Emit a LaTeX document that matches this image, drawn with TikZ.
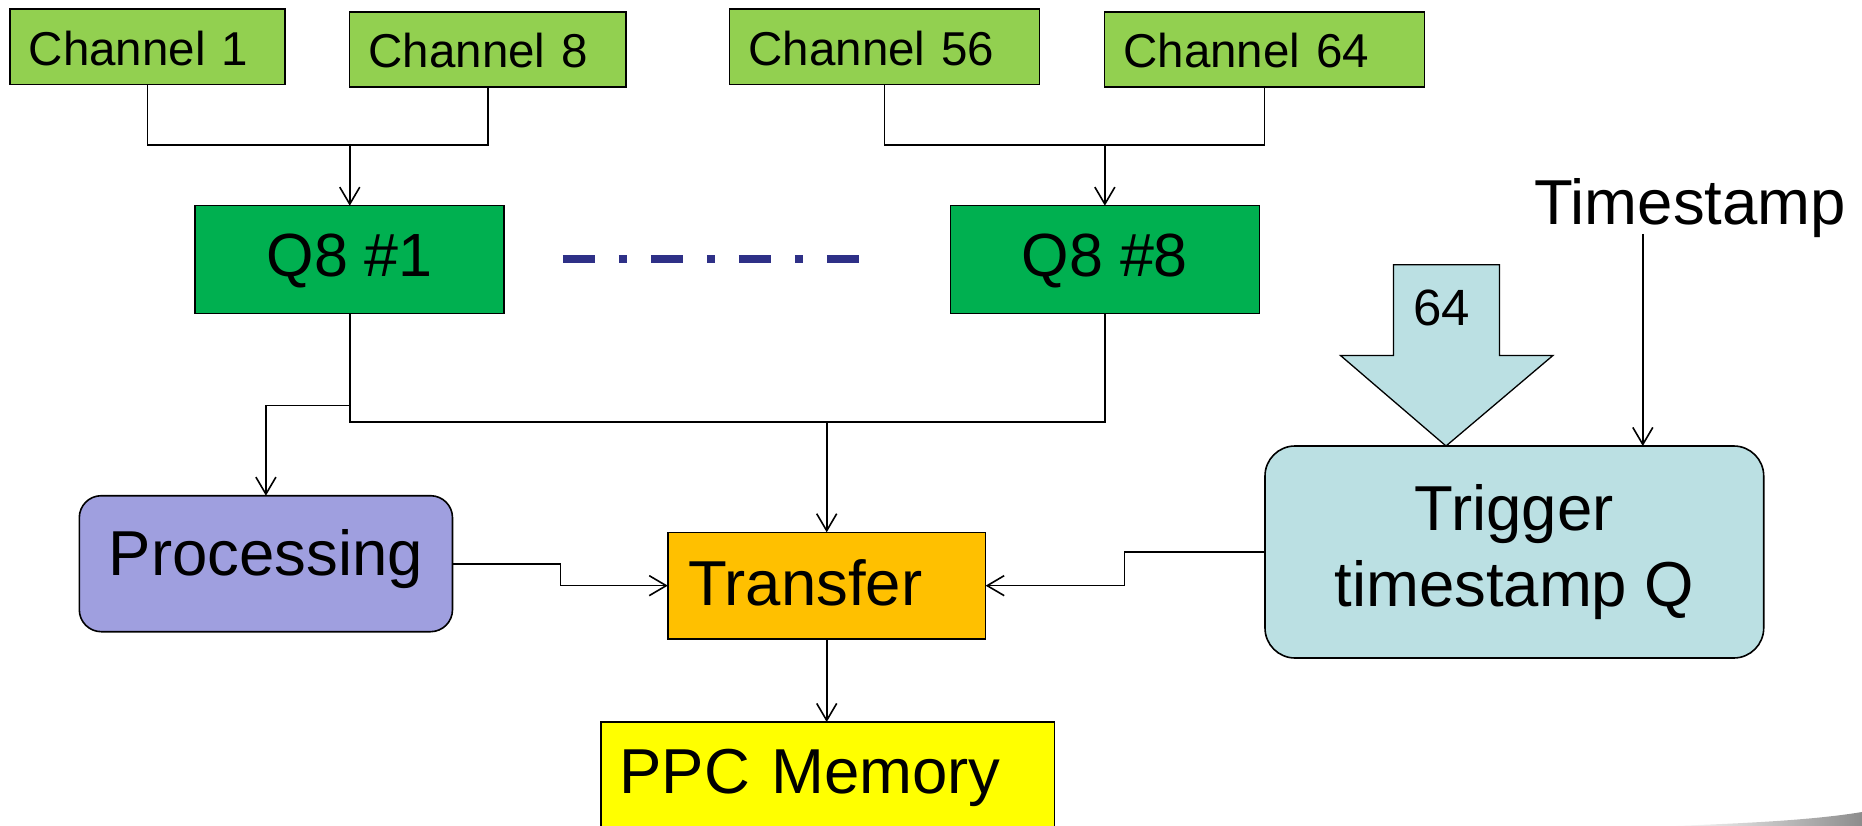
\documentclass[tikz,border=0pt]{standalone}
\usepackage{fontspec}
\setmainfont{Liberation Sans}
\usetikzlibrary{arrows.meta,calc}

\definecolor{chgreen}{HTML}{92D050}
\definecolor{qgreen}{HTML}{00B050}
\definecolor{procblue}{HTML}{9F9FDF}
\definecolor{xorange}{HTML}{FFC000}
\definecolor{trigblue}{HTML}{BBE0E3}
\definecolor{ppcyellow}{HTML}{FFFF00}
\definecolor{dashblue}{HTML}{2E3087}

\begin{document}
\begin{tikzpicture}[x=1pt,y=-1pt,
  box/.style={draw=black, line width=1.6pt, outer sep=0pt, inner ysep=0pt},
  chanbox/.style={box, fill=chgreen, inner xsep=19pt, text width=#1, align=left,
    minimum height=75.5pt, text height=37pt, text depth=0pt,
    font=\fontsize{47.5}{57}\selectfont},
  qbox/.style={box, fill=qgreen, minimum width=309pt, minimum height=107.6pt,
    text height=44pt, text depth=9.6pt, font=\fontsize{61}{73}\selectfont},
  bigfont/.style={font=\fontsize{63.5}{75.4}\selectfont},
  wire/.style={line width=1.6pt, draw=black},
  arr/.style={wire, -{Straight Barb[length=17pt,width=20pt,line width=1.6pt]}},
  dashline/.style={draw=dashblue, line width=8pt, line cap=butt,
    dash pattern=on 32pt off 24pt on 8pt off 24pt},
]
\useasboundingbox (0,0) rectangle (1862,826);

% input channels
\node[chanbox=237pt] (ch1)  at (147.3,46.65)  {Channel 1};
\node[chanbox=238.3pt] (ch8)  at (487.75,49.5) {Channel 8};
\node[chanbox=271.7pt] (ch56) at (884.45,46.65) {Channel 56};
\node[chanbox=282pt] (ch64) at (1264.4,49.5)  {Channel 64};

% Q8 blocks
\node[qbox] (q1) at (349.75,259.5) {Q8 \#1};
\node[qbox] (q8) at (1104.85,259.5) {Q8 \#8};

% processing, transfer, trigger, memory
\node[box, bigfont, fill=procblue, rounded corners=22pt, minimum width=373.2pt,
  minimum height=136pt, text height=45pt, text depth=22.4pt] (proc)
  at (265.9,563.7) {Processing};
\node[box, bigfont, fill=xorange, inner xsep=20.4pt, text width=277pt, align=left,
  minimum height=106.7pt, text height=45pt, text depth=6.2pt] (xfer)
  at (826.7,585.65) {Transfer};
\node[box, bigfont, fill=trigblue, rounded corners=30pt, minimum width=498.7pt,
  minimum height=212pt, align=center] (trig)
  at (1514.35,552) {Trigger\\timestamp Q};
\node[box, bigfont, fill=ppcyellow, inner xsep=18.3pt, text width=416.6pt, align=left,
  minimum height=120pt, text height=45pt, text depth=22.4pt] (ppc)
  at (827.8,782) {PPC Memory};

% timestamp input label
\node[bigfont, anchor=base west, inner sep=0pt] (tslabel) at (1534.2,225) {Timestamp};

% wide 64-bit input arrow
\coordinate (bigtip) at (1446,446);
\draw[line width=1.3pt, fill=trigblue]
  (1393.5,264.7) -- (1499.4,264.7) -- (1499.4,355.5) -- (1552.9,355.5)
  -- (bigtip) -- (1340.5,355.5) -- (1393.5,355.5) -- cycle;
\node[anchor=base, inner sep=0pt, font=\fontsize{51}{61}\selectfont] (width64)
  at (1441.9,325.4) {64};

% ellipsis between the Q8 blocks
\draw[dashline] ([xshift=58.5pt]q1.east) -- ([xshift=-91pt]q8.west);

% channel merges into the Q8 blocks
\coordinate (j1) at ($(q1.north |- 0,145)$);
\coordinate (j8) at ($(q8.north |- 0,145)$);
\draw[wire] (ch1.south) |- (j1) -| (ch8.south);
\draw[arr] (j1) -- (q1.north);
\draw[wire] (ch56.south) |- (j8) -| (ch64.south);
\draw[arr] (j8) -- (q8.north);

% output bus of the Q8 blocks
\coordinate (bus1) at ($(q1.south |- 0,422)$);
\coordinate (bus8) at ($(q8.south |- 0,422)$);
\coordinate (tap) at ($(xfer.north |- 0,422)$);
\coordinate (br) at ($(q1.south |- 0,405.5)$);
\draw[wire] (q1.south) -- (bus1) -- (bus8) -- (q8.south);
\draw[arr] (br) -| (proc.north);
\draw[arr] (tap) -- (xfer.north);

% into and out of the transfer block
\draw[arr] (proc.east) -- ++(108,0) |- (xfer.west);
\draw[arr] (trig.west) -- ++(-140.7,0) |- (xfer.east);
\draw[arr] (xfer.south) -- (xfer.south |- ppc.north);

% timestamp into the trigger queue
\coordinate (ts) at (1642.8,234);
\draw[arr] (ts) -- (ts |- trig.north);

% page curl shadow
\shade[left color=white, right color=black!45]
  (1670,826) .. controls (1760,823) and (1820,819) .. (1862,812) -- (1862,826) -- cycle;
\end{tikzpicture}
\end{document}
